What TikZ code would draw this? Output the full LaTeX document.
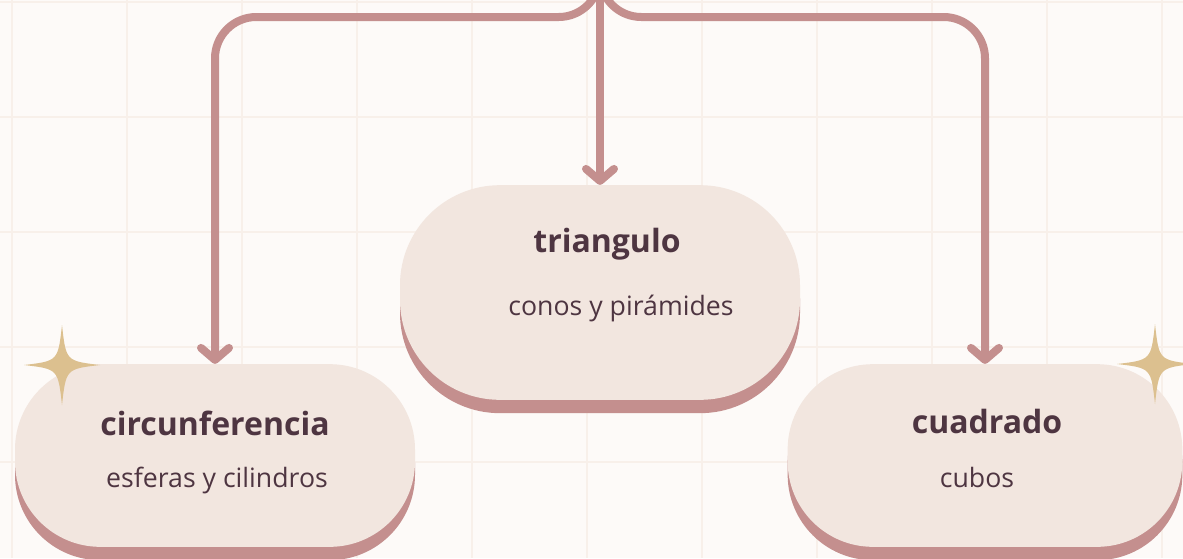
\documentclass[tikz,border=0pt]{standalone}
\usepackage{fontspec}
\setmainfont{Open Sans}
\usepackage{xcolor}
\usetikzlibrary{arrows.meta,shadows}

\definecolor{paper}{HTML}{FDFAF8}
\definecolor{gridtone}{HTML}{F8F0EA}
\definecolor{rose}{HTML}{C48F8E}
\definecolor{cream}{HTML}{F2E6DF}
\definecolor{plum}{HTML}{4E3541}
\definecolor{gold}{HTML}{DCC08F}

\begin{document}
\begin{tikzpicture}[x=0.75pt,y=0.75pt,yscale=-1,xscale=1,
    pill/.style={fill=cream, draw=none, rounded corners=#1, drop shadow={shadow xshift=0pt, shadow yshift=-10pt, fill=rose, opacity=1}},
    title/.style={inner sep=0.75pt, text=plum, font=\fontsize{24}{28}\selectfont\bfseries},
    desc/.style={inner sep=0.75pt, text=plum, font=\fontsize{20}{24}\selectfont},
    link/.style={draw=rose, line width=6pt, rounded corners=31pt, -{Straight Barb[length=9pt,width=21pt,round]}},
    sparkle/.style={fill=gold, draw=none},
    gridline/.style={draw=gridtone, line width=2pt}]
                \useasboundingbox (0,0) rectangle (1183,558);
                \clip (0,0) rectangle (1183,558);
                % paper and grid
                \fill [paper] (0,0) rectangle (1183,558);
                \foreach \gx in {12,127,...,1162} \draw [gridline] (\gx,0) -- (\gx,558);
                \foreach \gy in {2,117,...,462} \draw [gridline] (0,\gy) -- (1183,\gy);
                % boxes
                \node [pill=75pt, minimum width=300pt, minimum height=161pt] (tri) at (600,292.5) {};
                \node [pill=64pt, minimum width=300pt, minimum height=137pt] (circ) at (215,455.5) {};
                \node [pill=64pt, minimum width=296pt, minimum height=137pt] (cuad) at (985,455.5) {};
                % links
                \coordinate (root) at (600,-80);
                \coordinate (hub) at (600,17);
                \draw [link] (root) -- (tri.north);
                \draw [link] (root) -- (hub) -| (circ.north);
                \draw [link] (root) -- (hub) -| (cuad.north);
                % sparkles
                \foreach \sx/\sy in {62/365,1155/364}
                    \fill [sparkle] (\sx-38,\sy) .. controls (\sx-4,\sy-4) .. (\sx,\sy-40) .. controls (\sx+4,\sy-4) .. (\sx+38,\sy) .. controls (\sx+4,\sy+4) .. (\sx,\sy+40) .. controls (\sx-4,\sy+4) .. (\sx-38,\sy) -- cycle;
                % texts
                \draw (607,252) node [anchor=base][title] (triTitle) {triangulo};
                \draw (621,315) node [anchor=base][desc] (triDesc) {conos y pirámides};
                \draw (215,435) node [anchor=base][title] (circTitle) {circunferencia};
                \draw (217,487) node [anchor=base][desc] (circDesc) {esferas y cilindros};
                \draw (987,433) node [anchor=base][title] (cuadTitle) {cuadrado};
                \draw (977,487) node [anchor=base][desc] (cuadDesc) {cubos};
\end{tikzpicture}
\end{document}
